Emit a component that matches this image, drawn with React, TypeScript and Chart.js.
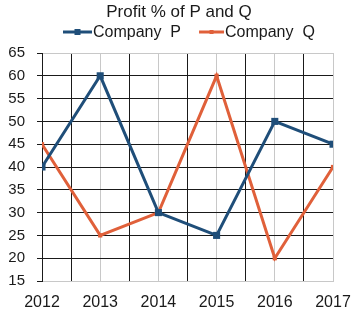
import React, { useEffect, useRef } from "react";
import { Chart, registerables } from "chart.js";

Chart.register(...registerables);

const years = ["2012", "2013", "2014", "2015", "2016", "2017"];
const companyP = [40, 60, 30, 25, 50, 45];
const companyQ = [45, 25, 30, 60, 20, 40];
const seriesNames = ["Company  P", "Company  Q"];
const yMin = 15;
const yMax = 65;
const yStep = 5;
const titleText = "Profit % of P and Q";

const FONT = "'Liberation Sans', Arial, sans-serif";
const BLUE = "#1f4e79";
const ORANGE = "#e0603a";
const BLACK = "#1a1a1a";
const GRAY = "#c8c8c8";

const headerPlugin = {
  id: "header",
  afterDraw(chart: any) {
    const ctx = chart.ctx;
    ctx.save();
    ctx.textBaseline = "middle";
    ctx.fillStyle = BLACK;
    ctx.font = `17px ${FONT}`;
    ctx.textAlign = "center";
    ctx.fillText(titleText, 179, 12);

    const y = 32;
    let x = 63;
    ctx.font = `16px ${FONT}`;
    ctx.textAlign = "left";
    chart.data.datasets.forEach((ds: any, i: number) => {
      const lineLen = i === 0 ? 29 : 25;
      ctx.strokeStyle = ds.borderColor;
      ctx.lineWidth = 3;
      ctx.beginPath();
      ctx.moveTo(x, y);
      ctx.lineTo(x + lineLen, y);
      ctx.stroke();
      const s = i === 0 ? 6 : 4;
      ctx.fillStyle = ds.borderColor;
      ctx.fillRect(x + lineLen / 2 - s / 2, y - s / 2, s, s);
      ctx.fillStyle = BLACK;
      ctx.fillText(ds.label, x + lineLen + 1, y + 1);
      x += lineLen + 1 + ctx.measureText(ds.label).width + 18;
    });
    ctx.restore();
  },
};

export default function App() {
  const ref = useRef<HTMLCanvasElement | null>(null);
  useEffect(() => {
    if (!ref.current) return;
    const chart = new Chart(ref.current, {
      type: "line",
      data: {
        datasets: [
          {
            label: seriesNames[0],
            data: companyP.map((v, i) => ({ x: i, y: v })),
            borderColor: BLUE,
            backgroundColor: BLUE,
            borderWidth: 3,
            pointStyle: "rect",
            pointRadius: 5,
            pointBorderWidth: 0,
            tension: 0,
          },
          {
            label: seriesNames[1],
            data: companyQ.map((v, i) => ({ x: i, y: v })),
            borderColor: ORANGE,
            backgroundColor: ORANGE,
            borderWidth: 3,
            pointStyle: "rect",
            pointRadius: 3,
            pointBorderWidth: 0,
            tension: 0,
          },
        ],
      },
      options: {
        responsive: false,
        animation: false,
        layout: { padding: { left: 0, right: 19, top: 53, bottom: 0 } },
        plugins: {
          legend: { display: false },
          tooltip: { enabled: false },
          title: { display: false },
        },
        scales: {
          x: {
            type: "linear",
            min: 0,
            max: years.length - 1,
            ticks: {
              stepSize: 0.5,
              autoSkip: false,
              maxRotation: 0,
              padding: 12,
              color: BLACK,
              font: { size: 16, family: FONT },
              callback: (v: any) => (Number.isInteger(v) ? years[v] : ""),
            },
            grid: {
              color: (c: any) =>
                c.tick && Number.isInteger(c.tick.value) && c.tick.value !== 0 ? GRAY : BLACK,
              drawTicks: false,
              lineWidth: 1,
            },
            border: { color: GRAY },
            afterFit: (s: any) => {
              s.height = 45;
              s.paddingLeft = 0;
              s.paddingRight = 0;
            },
          },
          y: {
            min: yMin,
            max: yMax,
            ticks: {
              stepSize: yStep,
              padding: 12,
              color: BLACK,
              font: { size: 15, family: FONT },
            },
            grid: {
              color: (c: any) =>
                c.tick && (c.tick.value === yMin || c.tick.value === yMax) ? GRAY : BLACK,
              tickColor: BLACK,
              tickLength: 5,
              lineWidth: 1,
            },
            border: { color: BLACK },
            afterFit: (s: any) => {
              s.width = 42;
              s.paddingTop = 0;
              s.paddingBottom = 0;
            },
          },
        },
      } as any,
      plugins: [headerPlugin],
    });
    return () => chart.destroy();
  }, []);
  return (
    <div style={{ position: "fixed", left: 0, top: 0, width: 352, height: 326, background: "#fff" }}>
      <canvas ref={ref} width={352} height={326} style={{ display: "block" }} />
    </div>
  );
}
